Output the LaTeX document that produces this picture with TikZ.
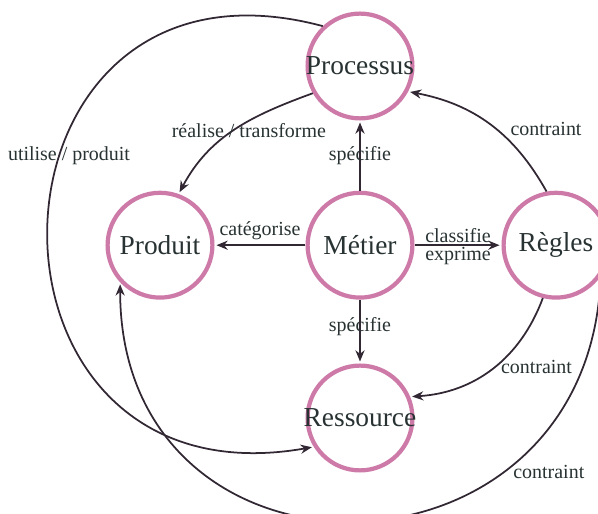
\documentclass[tikz,border=0pt]{standalone}
\usepackage{fontspec}
\setmainfont{Liberation Serif}
\usepackage{tikz}
\usetikzlibrary{shapes.geometric, arrows.meta, positioning}
\definecolor{ringpink}{RGB}{206,122,168}
\definecolor{linedark}{RGB}{50,40,52}
\definecolor{textdark}{RGB}{40,50,50}
\tikzstyle{entity} = [circle, minimum size=2.62cm, inner sep=-9pt, draw=ringpink, line width=3pt, text=textdark, font=\fontsize{19.5}{22}\selectfont]
\tikzstyle{arrow} = [line width=1.25pt, draw=linedark, -{Stealth[length=8pt,width=6.5pt]}, shorten >=1.4pt]
\tikzstyle{lbl} = [text=textdark, font=\fontsize{14.2}{16}\selectfont, inner sep=1pt]

\begin{document}
\begin{tikzpicture}[on grid]
    \useasboundingbox (0,0) rectangle (14.95,12.85);

    \node (metier) [entity] at (9,6.72) {Métier};
    \node (proc) [entity, above=4.48cm of metier] {Processus};
    \node (prod) [entity, left=5cm of metier] {Produit};
    \node (regles) [entity, right=4.9cm of metier] {Règles};
    \node (ress) [entity, below=4.32cm of metier] {Ressource};

    \draw [arrow] (metier) -- node[lbl] {spécifie} (proc);
    \draw [arrow] (metier) -- node[lbl, above=2pt] {catégorise} (prod);
    \draw [arrow] (metier) -- node[lbl, above=0pt] {classifie} node[lbl, below=0pt] {exprime} (regles);
    \draw [arrow] (metier) -- node[lbl, pos=0.42] {spécifie} (ress);

    \draw [arrow] (proc.210) to[out=200, in=62] node[lbl, pos=0.55, xshift=0.53cm, yshift=0.1cm] {réalise / transforme} (prod.70);
    \draw [arrow] (regles.100) to[bend right=25] node[lbl, pos=0.45, anchor=west, xshift=0.3cm] {contraint} (proc.-28);
    \draw [arrow] (regles.-104) to[bend left=33] node[lbl, pos=0.45, anchor=west, yshift=-0.1cm] {contraint} (ress.23);
    \draw [arrow] (proc.133) to[out=165, in=190, looseness=2.24] node[lbl, pos=0.4, xshift=0.2cm, yshift=-0.1cm] {utilise / produit} (ress.212);
    \draw [arrow] (regles.-35) to[out=-92, in=-90, looseness=1.71] node[lbl, pos=0.28, anchor=west, xshift=0.18cm] {contraint} (prod.223);

\end{tikzpicture}
\end{document}
